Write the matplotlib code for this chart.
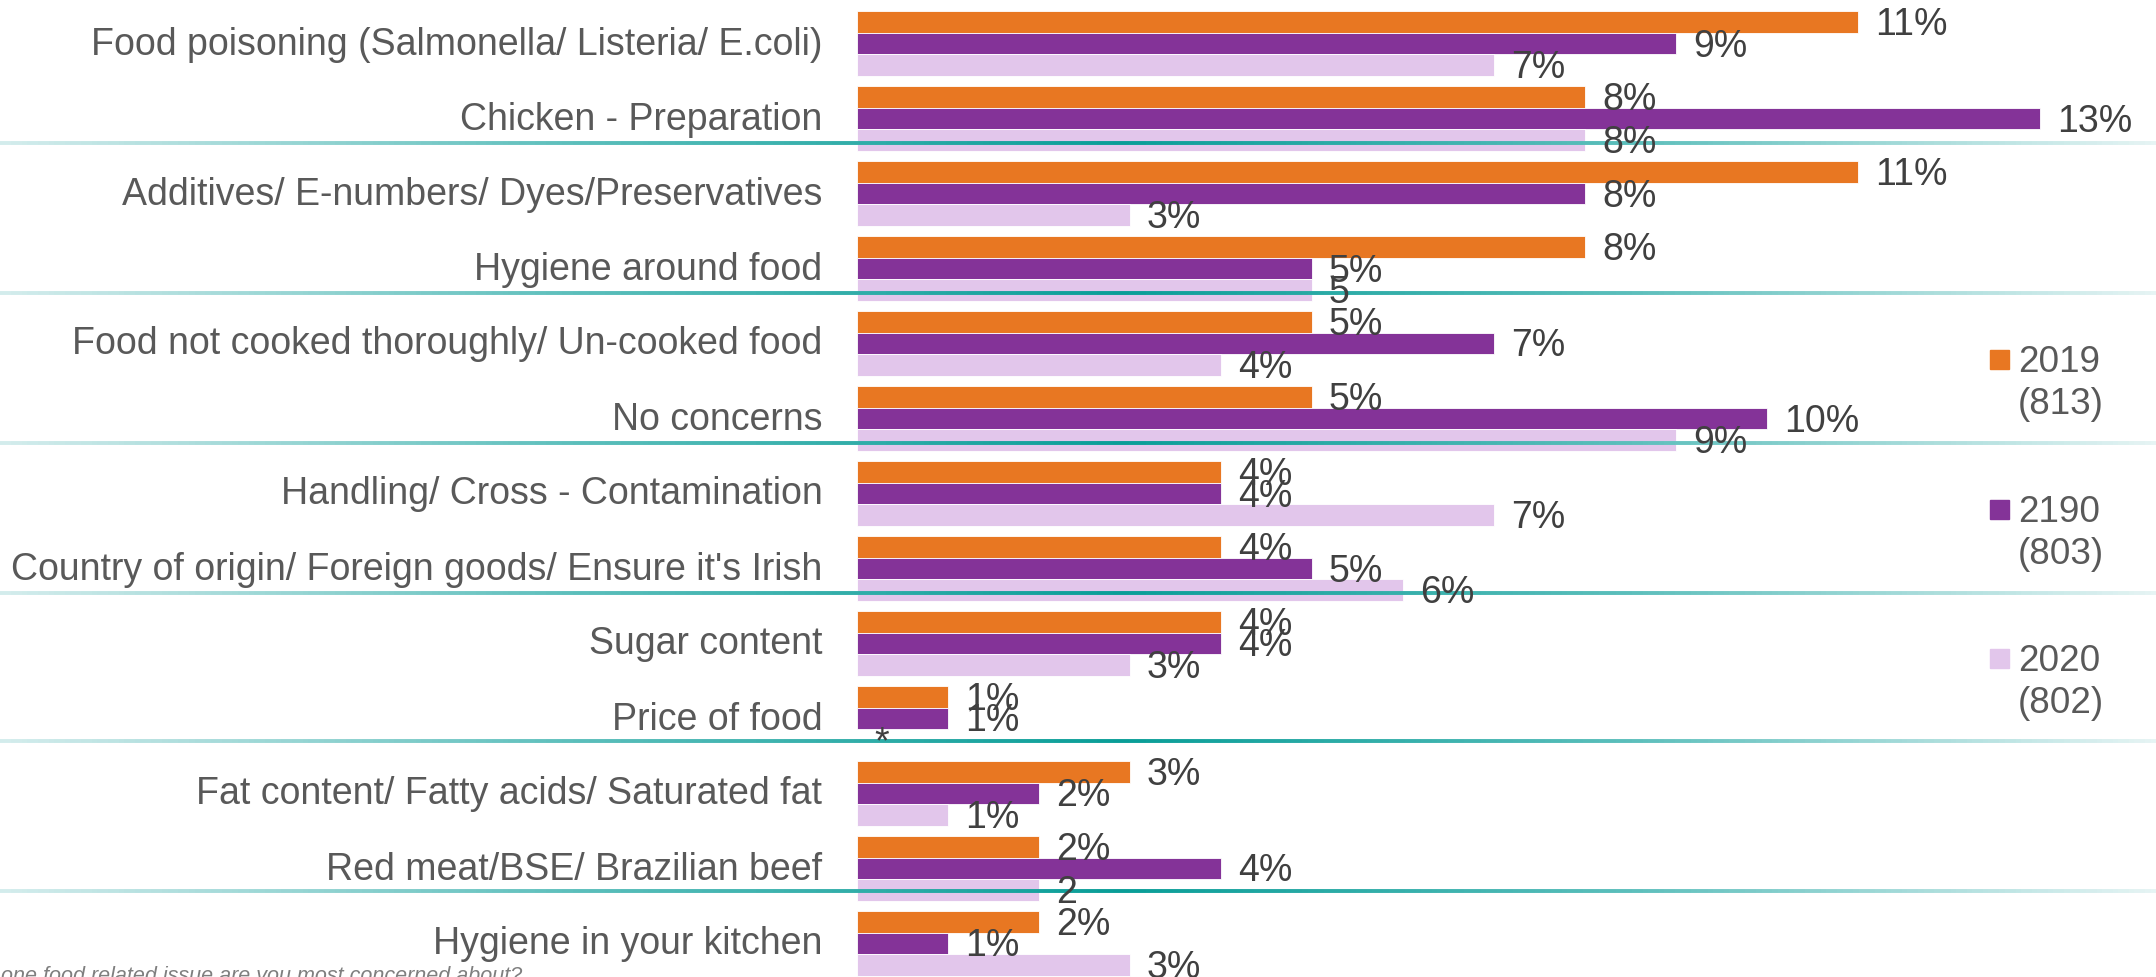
import numpy as np
import matplotlib
matplotlib.use("Agg")
import matplotlib.pyplot as plt
from matplotlib.collections import LineCollection
from matplotlib.colors import LinearSegmentedColormap
from matplotlib.patches import Rectangle
from matplotlib.transforms import ScaledTranslation

plt.rcParams['font.family'] = ['Liberation Sans', 'DejaVu Sans']

categories = [
    "Food poisoning (Salmonella/ Listeria/ E.coli)",
    "Chicken - Preparation",
    "Additives/ E-numbers/ Dyes/Preservatives",
    "Hygiene around food",
    "Food not cooked thoroughly/ Un-cooked food",
    "No concerns",
    "Handling/ Cross - Contamination",
    "Country of origin/ Foreign goods/ Ensure it's Irish",
    "Sugar content",
    "Price of food",
    "Fat content/ Fatty acids/ Saturated fat",
    "Red meat/BSE/ Brazilian beef",
    "Hygiene in your kitchen",
]
series_names = ["2019", "2190", "2020"]
sample_sizes = ["(813)", "(803)", "(802)"]
vals_2019 = [11, 8, 11, 8, 5, 5, 4, 4, 4, 1, 3, 2, 2]
vals_2190 = [9, 13, 8, 5, 7, 10, 4, 5, 4, 1, 2, 4, 1]
vals_2020 = [7, 8, 3, 5, 4, 9, 7, 6, 3, 0, 1, 2, 3]
# labels that are not printed as plain "n%"
label_overrides = {(3, 2): "5", (9, 2): "*", (11, 2): "2"}

colors = ["#E87722", "#843398", "#E2C6EB"]
label_grey = "#595959"
value_grey = "#404040"
fs = 27

W, H = 2156, 977
fig = plt.figure(figsize=(W / 100, H / 100), dpi=100)

x0 = 857          # pixel where the value axis starts
px_per_pct = 91   # pixels per percentage point
row = 75          # pixels between category centres
first = 43.5      # pixel of first category centre

ax = fig.add_axes([x0 / W, 0, 1 - x0 / W, 1])
ax.set_xlim(0, (W - x0) / px_per_pct)
ax.set_ylim(12 + (H - first - 12 * row) / row, -first / row)
for s in ax.spines.values():
    s.set_visible(False)
ax.set_xticks([])

bar_h = 21.5 / row
y = np.arange(len(categories))
all_vals = [vals_2019, vals_2190, vals_2020]
for j, vals in enumerate(all_vals):
    yy = y + (j - 1) * bar_h
    ax.barh(yy, vals, height=bar_h, color=colors[j], edgecolor="white",
            linewidth=0.6, zorder=2)
    for i, v in enumerate(vals):
        txt = label_overrides.get((i, j), f"{v}%")
        ax.text(v + 17 / px_per_pct, yy[i] + 3 / row, txt, va="center", ha="left",
                fontsize=fs, color=value_grey, zorder=4)

ax.set_yticks(y)
ax.set_yticklabels(categories, fontsize=fs, color=label_grey)
ax.tick_params(axis="y", length=0, pad=25)
shift_up = ScaledTranslation(0, 3 / 100, fig.dpi_scale_trans)
for lab in ax.get_yticklabels():
    lab.set_transform(lab.get_transform() + shift_up)

# decorative teal rules across the page
cmap = LinearSegmentedColormap.from_list(
    "teal", ["#d3ecec", "#5dbfbc", "#089d97", "#5dbfbc", "#e6f4f4"])
xs = np.linspace(0, W, 400)
for ly in [142.5, 292.5, 442.5, 592.5, 741, 891]:
    pts = np.column_stack([xs / W, np.full_like(xs, 1 - ly / H)])
    segs = np.stack([pts[:-1], pts[1:]], axis=1)
    lc = LineCollection(segs, cmap=cmap, linewidths=2.8,
                        transform=fig.transFigure, clip_on=False, zorder=3)
    lc.set_array(np.interp(xs[:-1], [0, 1120, W], [0, 0.5, 1]))
    lc.set_clim(0, 1)
    ax.add_collection(lc)

# legend on the right
for j, (name, n) in enumerate(zip(series_names, sample_sizes)):
    cy = 359.5 + j * 149.5
    fig.patches.append(Rectangle((1990 / W, 1 - (cy + 9.5) / H), 19 / W, 19 / H,
                                 transform=fig.transFigure, color=colors[j]))
    fig.text(2018 / W, 1 - (cy + 12.5) / H, name, fontsize=26.6,
             color=label_grey, va="baseline")
    fig.text(2018 / W, 1 - (cy + 54.5) / H, n, fontsize=26.6,
             color=label_grey, va="baseline")

fig.text(522 / W, 1 - 982 / H, "one food related issue are you most concerned about?",
         fontsize=15.5, style="italic", color="#7f7f7f", ha="right", va="baseline")

fig.savefig("out.png", dpi=100)
